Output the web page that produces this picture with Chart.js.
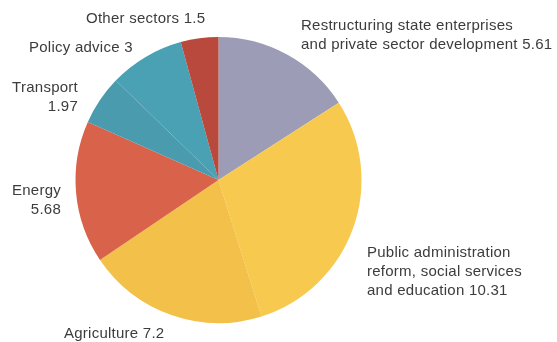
<!DOCTYPE html>
<html>
<head>
<meta charset="utf-8">
<script src="https://cdn.jsdelivr.net/npm/chart.js@4"></script>
<style>
  html, body { margin: 0; padding: 0; background: #fff; }
  #wrap { position: relative; width: 557px; height: 342px; overflow: hidden; }
  canvas { position: absolute; left: 0; top: 0; }
  .lbl { position: absolute; font-family: "Liberation Sans", Arial, sans-serif; font-size: 15px; letter-spacing: 0.25px; line-height: 19px; color: #3c3c3c; white-space: nowrap; }
  .r { text-align: right; }
</style>
</head>
<body>
<div id="wrap">
  <canvas id="c" width="557" height="342"></canvas>
  <div class="lbl" style="left:301px;top:15px;">Restructuring state enterprises<br>and private sector development 5.61</div>
  <div class="lbl" style="left:367px;top:242px;">Public administration<br>reform, social services<br>and education 10.31</div>
  <div class="lbl" style="left:64px;top:323px;">Agriculture 7.2</div>
  <div class="lbl r" style="right:496px;top:180px;">Energy<br>5.68</div>
  <div class="lbl r" style="right:479px;top:77px;">Transport<br>1.97</div>
  <div class="lbl" style="left:29px;top:37px;">Policy advice 3</div>
  <div class="lbl" style="left:86px;top:8px;">Other sectors 1.5</div>
</div>
<script>
const categories = [
  "Restructuring state enterprises and private sector development",
  "Public administration reform, social services and education",
  "Agriculture",
  "Energy",
  "Transport",
  "Policy advice",
  "Other sectors"
];
const values = [5.61, 10.31, 7.2, 5.68, 1.97, 3, 1.5];
const colors = ["#9c9cb6", "#f8c94f", "#f3c14a", "#d9634a", "#4a9bae", "#4aa1b4", "#b9493d"];

new Chart(document.getElementById("c"), {
  type: "pie",
  data: {
    labels: categories,
    datasets: [{
      data: values,
      backgroundColor: colors,
      borderWidth: 0
    }]
  },
  options: {
    responsive: false,
    animation: false,
    layout: { padding: { left: 75, right: 195, top: 37, bottom: 19 } },
    plugins: {
      legend: { display: false },
      tooltip: { enabled: false }
    }
  }
});
</script>
</body>
</html>
